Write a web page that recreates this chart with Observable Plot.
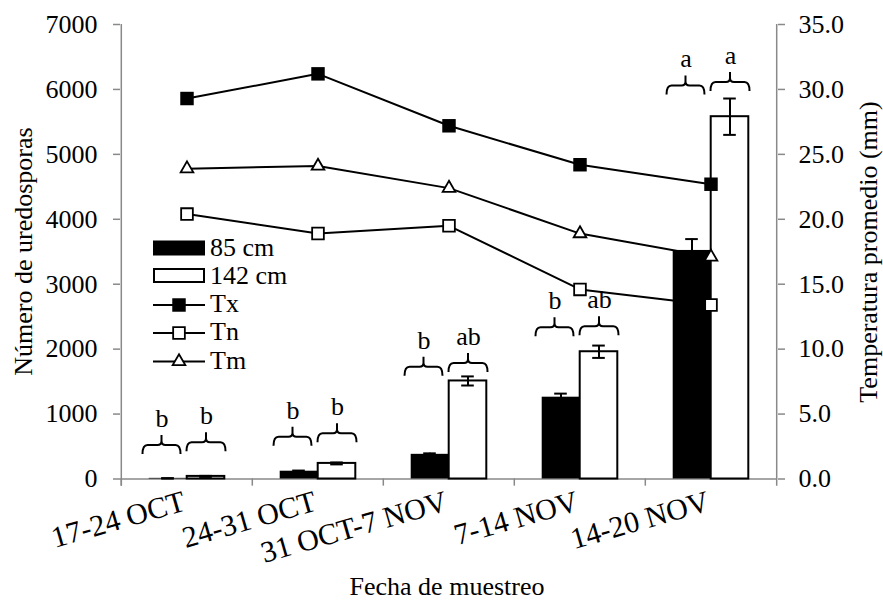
<!DOCTYPE html>
<html>
<head>
<meta charset="utf-8">
<script src="https://cdn.jsdelivr.net/npm/d3@7"></script>
<script src="https://cdn.jsdelivr.net/npm/@observablehq/plot@0.6"></script>
<style>
  body { margin: 0; background: #fff; }
  #chart svg { display: block; }
</style>
</head>
<body>
<div id="chart"></div>
<script>
// ---- data ----
const categories = ["17-24 OCT", "24-31 OCT", "31 OCT-7 NOV", "7-14 NOV", "14-20 NOV"];
const spores85 = [10, 120, 380, 1260, 3520];
const err85 = [3, 10, 15, 55, 175];
const spores142 = [40, 240, 1510, 1960, 5580];
const err142 = [8, 15, 70, 95, 280];
const letters85 = ["b", "b", "b", "b", "a"];
const letters142 = ["b", "b", "ab", "ab", "a"];
const brace85 = [515, 643, 1720, 2331, 6054];
const brace142 = [557, 695, 1777, 2346, 6105];
const tx = [29.3, 31.2, 27.2, 24.2, 22.7];
const tn = [20.4, 18.9, 19.5, 14.6, 13.4];
const tm = [23.9, 24.1, 22.4, 18.9, 17.1];
const leftTicks = [0, 1000, 2000, 3000, 4000, 5000, 6000, 7000];
const rightTicks = [0, 5, 10, 15, 20, 25, 30, 35];
const seriesNames = ["85 cm", "142 cm", "Tx", "Tn", "Tm"];

// ---- layout ----
const W = 883, H = 600, ML = 120, MR = 106, MT = 24, MB = 121.5;
const BW = (W - ML - MR) / categories.length;
const half = BW / 2;
const barW = 38;
const capW = 13;
const SCALE = 7000 / 35; // right axis (°) -> left axis units
const gray = "#898989";
const FONT = "'Liberation Serif', 'Times New Roman', serif";

const rows85 = categories.map((c, i) => ({cat: c, v: spores85[i], e: err85[i], letter: letters85[i], brace: brace85[i]}));
const rows142 = categories.map((c, i) => ({cat: c, v: spores142[i], e: err142[i], letter: letters142[i], brace: brace142[i]}));
const caps85 = rows85.flatMap(d => [{cat: d.cat, y: d.v - d.e}, {cat: d.cat, y: d.v + d.e}]);
const caps142 = rows142.flatMap(d => [{cat: d.cat, y: d.v - d.e}, {cat: d.cat, y: d.v + d.e}]);
const temps = [
  ...tx.map((t, i) => ({cat: categories[i], t, s: "Tx"})),
  ...tn.map((t, i) => ({cat: categories[i], t, s: "Tn"})),
  ...tm.map((t, i) => ({cat: categories[i], t, s: "Tm"}))
];

function bracePath(a, b, h) {
  const d = 9, n = 10, r = 4, m = (a + b) / 2;
  return `M${a},${h + d} Q${a},${h} ${a + 5},${h} L${m - r},${h} Q${m},${h} ${m},${h - r} L${m},${h - n}` +
         ` M${m},${h - r} Q${m},${h} ${m + r},${h} L${b - 5},${h} Q${b},${h} ${b},${h + d}`;
}
function braces(rows, x0, x1) {
  return (index, scales) => {
    const x = scales.x, y = scales.y;
    const bw = x.bandwidth ? x.bandwidth() : BW;
    const g = d3.create("svg:g").attr("fill", "none").attr("stroke", "black").attr("stroke-width", 2);
    rows.forEach(d => {
      const cx = x(d.cat) + bw / 2;
      g.append("path").attr("d", bracePath(cx + x0, cx + x1, y(d.brace)));
    });
    return g.node();
  };
}

const chart = Plot.plot({
  width: W, height: H,
  marginLeft: ML, marginRight: MR, marginTop: MT, marginBottom: MB,
  style: {fontFamily: FONT, fontSize: "26px", color: "black", background: "white"},
  x: {domain: categories, padding: 0, axis: null},
  y: {domain: [0, 7000], axis: null},
  marks: [
    // axes lines & ticks
    Plot.ruleY([0], {stroke: gray, strokeWidth: 1.5}),
    Plot.ruleX([categories[0]], {x: d => d, dx: -half, y1: () => -110, y2: () => 7000, stroke: gray, strokeWidth: 1.5}),
    Plot.ruleX([categories[categories.length - 1]], {x: d => d, dx: half, y1: () => -110, y2: () => 7000, stroke: gray, strokeWidth: 1.5}),
    Plot.ruleX(categories, {x: d => d, dx: -half, y1: () => -110, y2: () => 0, stroke: gray, strokeWidth: 1.5}),
    Plot.axisY(leftTicks, {anchor: "left", tickSize: 7, tickPadding: 16, stroke: gray, strokeWidth: 1.5, fill: "black",
      fontSize: 26, label: null, tickFormat: d => String(d)}),
    Plot.axisY(rightTicks.map(t => t * SCALE), {anchor: "right", tickSize: 7, tickPadding: 14, stroke: gray, strokeWidth: 1.5,
      fill: "black", fontSize: 26, label: null, tickFormat: d => (d / SCALE).toFixed(1)}),
    // temperature lines
    Plot.line(temps, {x: "cat", y: d => d.t * SCALE, z: "s", stroke: "black", strokeWidth: 2}),
    // bars
    Plot.barY(rows85, {x: "cat", y1: () => 0, y2: "v", fill: "black", insetLeft: half - barW, insetRight: half}),
    Plot.barY(rows142, {x: "cat", y1: () => 0, y2: "v", fill: "white", stroke: "black", strokeWidth: 2, insetLeft: half, insetRight: half - barW}),
    // error bars
    Plot.ruleX(rows85, {x: "cat", y1: d => d.v - d.e, y2: d => d.v + d.e, dx: -barW / 2, stroke: "black", strokeWidth: 2}),
    Plot.ruleX(rows142, {x: "cat", y1: d => d.v - d.e, y2: d => d.v + d.e, dx: barW / 2, stroke: "black", strokeWidth: 2}),
    Plot.tickY(caps85, {x: "cat", y: "y", insetLeft: half - barW / 2 - capW / 2, insetRight: half + barW / 2 - capW / 2, stroke: "black", strokeWidth: 2}),
    Plot.tickY(caps142, {x: "cat", y: "y", insetLeft: half + barW / 2 - capW / 2, insetRight: half - barW / 2 - capW / 2, stroke: "black", strokeWidth: 2}),
    // markers
    Plot.dot(temps.filter(d => d.s === "Tx"), {x: "cat", y: d => d.t * SCALE, symbol: "square", r: 7.6, fill: "black"}),
    Plot.dot(temps.filter(d => d.s === "Tn"), {x: "cat", y: d => d.t * SCALE, symbol: "square", r: 6.6, fill: "white", stroke: "black", strokeWidth: 1.8}),
    Plot.dot(temps.filter(d => d.s === "Tm"), {x: "cat", y: d => d.t * SCALE, symbol: "triangle", r: 4.7, fill: "white", stroke: "black", strokeWidth: 1.8}),
    // braces and letters
    braces(rows85, -44, -6),
    braces(rows142, 0, 39),
    Plot.text(rows85, {x: "cat", y: "brace", text: "letter", dx: -25, dy: -18.5, lineAnchor: "bottom", fontSize: 26, fill: "black"}),
    Plot.text(rows142, {x: "cat", y: "brace", text: "letter", dx: 19.5, dy: -18.5, lineAnchor: "bottom", fontSize: 26, fill: "black"}),
    // x tick labels
    Plot.text(categories, {x: d => d, frameAnchor: "bottom", dy: 31, rotate: -16, textAnchor: "end", lineAnchor: "bottom", fontSize: 30, fill: "black"})
  ]
});
document.getElementById("chart").appendChild(chart);

// ---- axis titles & legend ----
const svg = d3.select(chart);
const t = svg.append("g").attr("font-family", FONT).attr("font-size", 26).attr("fill", "black");
t.append("text").attr("transform", "translate(32,251.5) rotate(-90)").attr("text-anchor", "middle").text("Número de uredosporas");
t.append("text").attr("transform", "translate(877,252) rotate(-90)").attr("text-anchor", "middle").text("Temperatura promedio (mm)");
t.append("text").attr("x", 447).attr("y", 595).attr("text-anchor", "middle").text("Fecha de muestreo");

const lg = svg.append("g").attr("font-family", FONT).attr("font-size", 26).attr("text-anchor", "start").attr("fill", "black");
const lx = 153, lw = 52, ltx = 210;
lg.append("rect").attr("x", lx).attr("y", 240.5).attr("width", lw).attr("height", 15).attr("fill", "black");
lg.append("text").attr("x", ltx).attr("y", 256).text(seriesNames[0]);
lg.append("rect").attr("x", lx + 1).attr("y", 269).attr("width", lw - 2).attr("height", 13).attr("fill", "white").attr("stroke", "black").attr("stroke-width", 2);
lg.append("text").attr("x", ltx).attr("y", 284).text(seriesNames[1]);
const legLines = [
  {y: 305, name: seriesNames[2], sym: d3.symbolSquare, r: 7.6, fill: "black", stroke: "none"},
  {y: 333, name: seriesNames[3], sym: d3.symbolSquare, r: 6.6, fill: "white", stroke: "black"},
  {y: 361.5, name: seriesNames[4], sym: d3.symbolTriangle, r: 4.7, fill: "white", stroke: "black"}
];
legLines.forEach(d => {
  lg.append("line").attr("x1", lx).attr("x2", lx + lw).attr("y1", d.y).attr("y2", d.y).attr("stroke", "black").attr("stroke-width", 2);
  lg.append("path").attr("transform", `translate(${lx + lw / 2},${d.y})`)
    .attr("d", d3.symbol(d.sym, d.r * d.r * Math.PI)())
    .attr("fill", d.fill).attr("stroke", d.stroke).attr("stroke-width", 1.8);
  lg.append("text").attr("x", ltx).attr("y", d.y + 7).text(d.name);
});
</script>
</body>
</html>
